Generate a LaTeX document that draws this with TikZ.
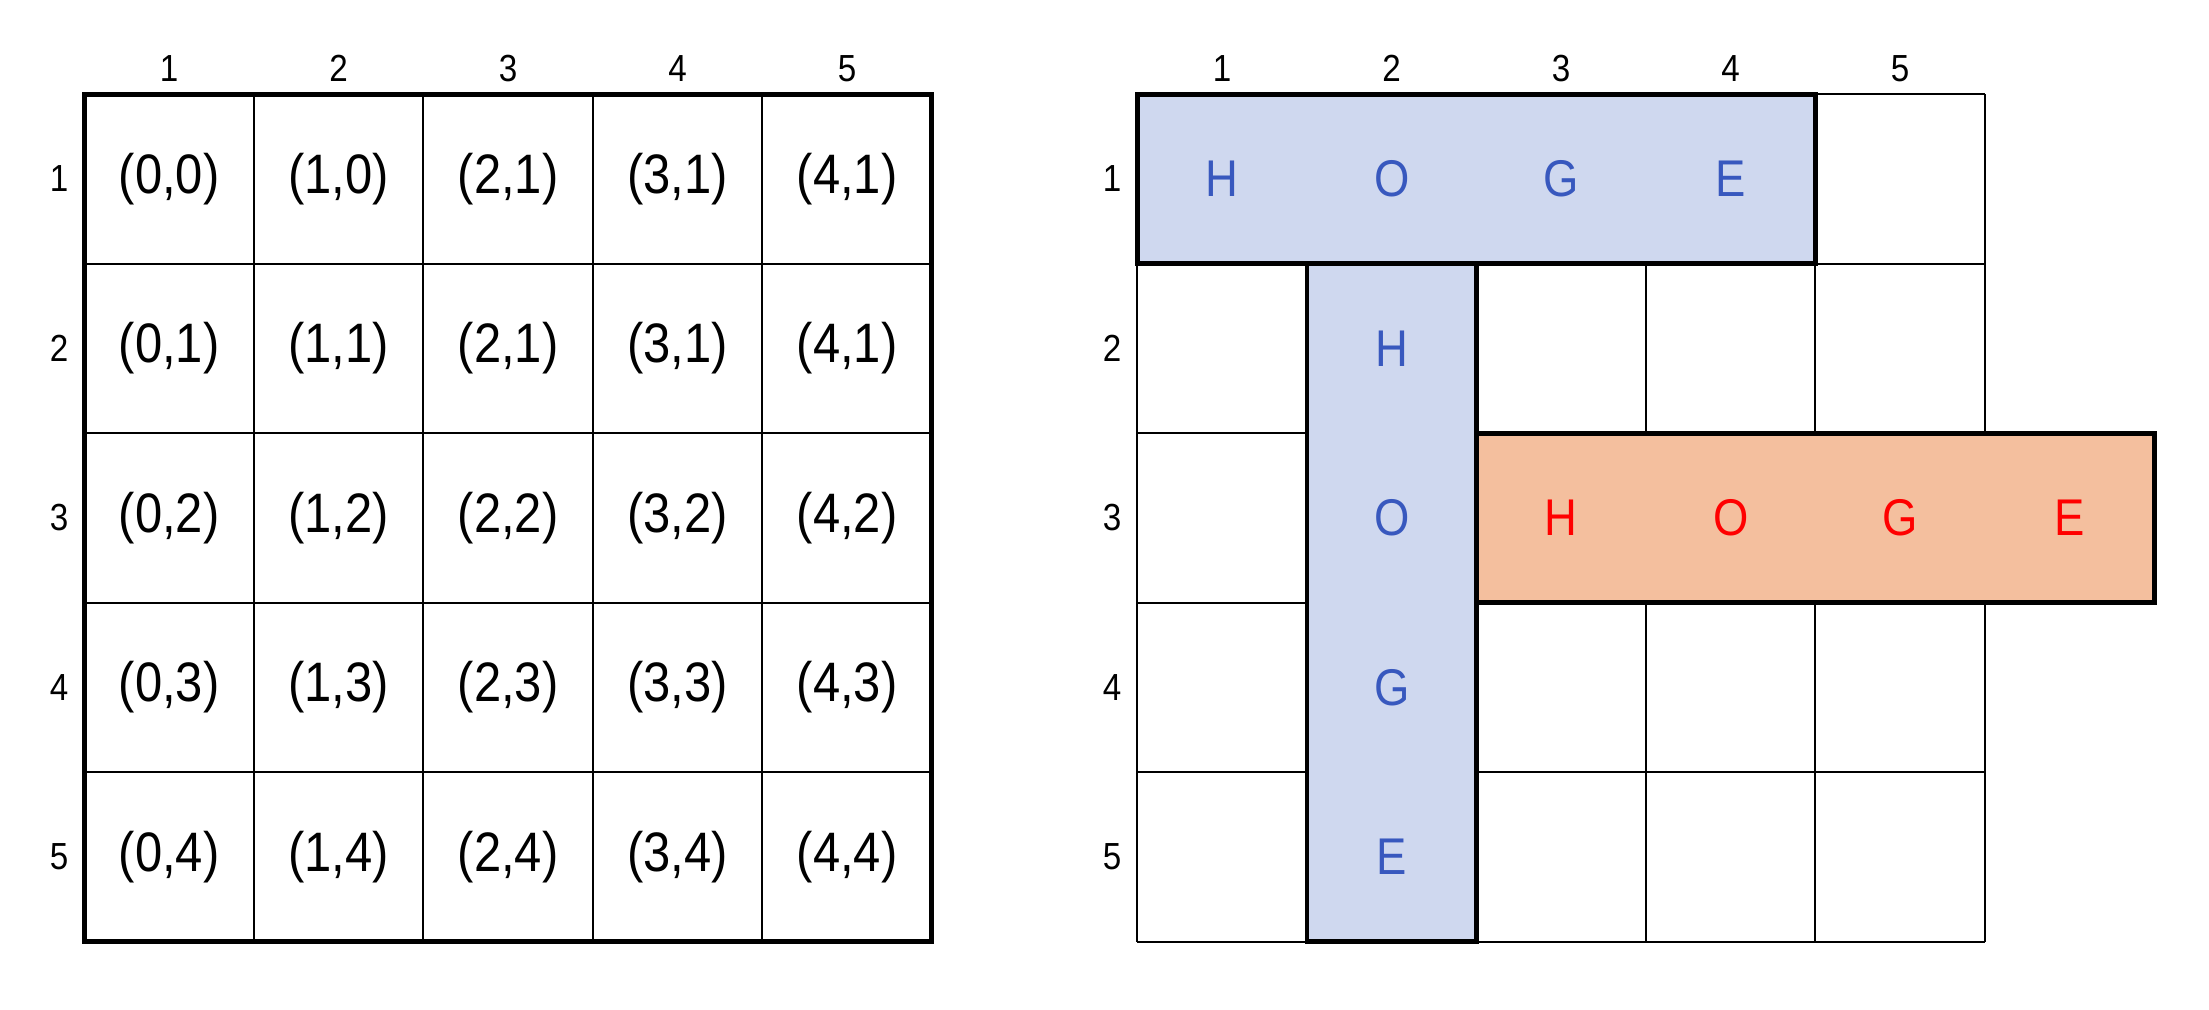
\documentclass[tikz,border=0pt]{standalone}
\usepackage{fontspec}
\setmainfont{Liberation Sans}[FakeStretch=0.88]
\definecolor{wordblue}{RGB}{207,216,239}
\definecolor{wordorange}{RGB}{244,191,158}
\definecolor{letterblue}{RGB}{56,88,190}
\definecolor{letterred}{RGB}{255,0,0}
\tikzset{
  thinline/.style={line width=0.5pt},
  thickline/.style={line width=1.2pt},
  idx/.style={font=\fontsize{9.5}{11}\selectfont},
  cellpos/.style={font=\fontsize{14}{16}\selectfont},
  bluechar/.style={font=\fontsize{13}{15}\selectfont,text=letterblue},
  redchar/.style={font=\fontsize{13}{15}\selectfont,text=letterred}
}
\begin{document}
\begin{tikzpicture}[x=1.5cm,y=1.5cm]
      \useasboundingbox (-0.498,-5.402) rectangle (12.535,0.556);
      % left board
      \draw[thinline,step=1.5cm] (0,0) grid (5,-5);
      \draw[thickline] (0,0) rectangle (5,-5);
      \draw[idx]
        (0.5,0.15) node (ac1){1}
        (1.5,0.15) node (ac2){2}
        (2.5,0.15) node (ac3){3}
        (3.5,0.15) node (ac4){4}
        (4.5,0.15) node (ac5){5}
        (-0.15,-0.5) node (ar1){1}
        (-0.15,-1.5) node (ar2){2}
        (-0.15,-2.5) node (ar3){3}
        (-0.15,-3.5) node (ar4){4}
        (-0.15,-4.5) node (ar5){5};
      \draw[cellpos]
        (0.5,-0.5) node (a11){(0,0)}
        (1.5,-0.5) node (a21){(1,0)}
        (2.5,-0.5) node (a31){(2,1)}
        (3.5,-0.5) node (a41){(3,1)}
        (4.5,-0.5) node (a51){(4,1)}
        (0.5,-1.5) node (a12){(0,1)}
        (1.5,-1.5) node (a22){(1,1)}
        (2.5,-1.5) node (a32){(2,1)}
        (3.5,-1.5) node (a42){(3,1)}
        (4.5,-1.5) node (a52){(4,1)}
        (0.5,-2.5) node (a13){(0,2)}
        (1.5,-2.5) node (a23){(1,2)}
        (2.5,-2.5) node (a33){(2,2)}
        (3.5,-2.5) node (a43){(3,2)}
        (4.5,-2.5) node (a53){(4,2)}
        (0.5,-3.5) node (a14){(0,3)}
        (1.5,-3.5) node (a24){(1,3)}
        (2.5,-3.5) node (a34){(2,3)}
        (3.5,-3.5) node (a44){(3,3)}
        (4.5,-3.5) node (a54){(4,3)}
        (0.5,-4.5) node (a15){(0,4)}
        (1.5,-4.5) node (a25){(1,4)}
        (2.5,-4.5) node (a35){(2,4)}
        (3.5,-4.5) node (a45){(3,4)}
        (4.5,-4.5) node (a55){(4,4)};
      % right board
      \begin{scope}[shift={(6.213,0)}]
        \draw[thinline,step=1.5cm] (0,0) grid (5,-5);
        \draw[thickline,fill=wordblue] (0,0) rectangle (4,-1);
        \draw[thickline,fill=wordblue] (1,-1) rectangle (2,-5);
        \draw[thickline,fill=wordorange] (2,-2) rectangle (6,-3);
        \draw[idx]
          (0.5,0.15) node (bc1){1}
          (1.5,0.15) node (bc2){2}
          (2.5,0.15) node (bc3){3}
          (3.5,0.15) node (bc4){4}
          (4.5,0.15) node (bc5){5}
          (-0.15,-0.5) node (br1){1}
          (-0.15,-1.5) node (br2){2}
          (-0.15,-2.5) node (br3){3}
          (-0.15,-3.5) node (br4){4}
          (-0.15,-4.5) node (br5){5};
        \draw[bluechar]
          (0.5,-0.5) node (t1){H}
          (1.5,-0.5) node (t2){O}
          (2.5,-0.5) node (t3){G}
          (3.5,-0.5) node (t4){E}
          (1.5,-1.5) node (d1){H}
          (1.5,-2.5) node (d2){O}
          (1.5,-3.5) node (d3){G}
          (1.5,-4.5) node (d4){E};
        \draw[redchar]
          (2.5,-2.5) node (o1){H}
          (3.5,-2.5) node (o2){O}
          (4.5,-2.5) node (o3){G}
          (5.5,-2.5) node (o4){E};
      \end{scope}
    \end{tikzpicture}
\end{document}
